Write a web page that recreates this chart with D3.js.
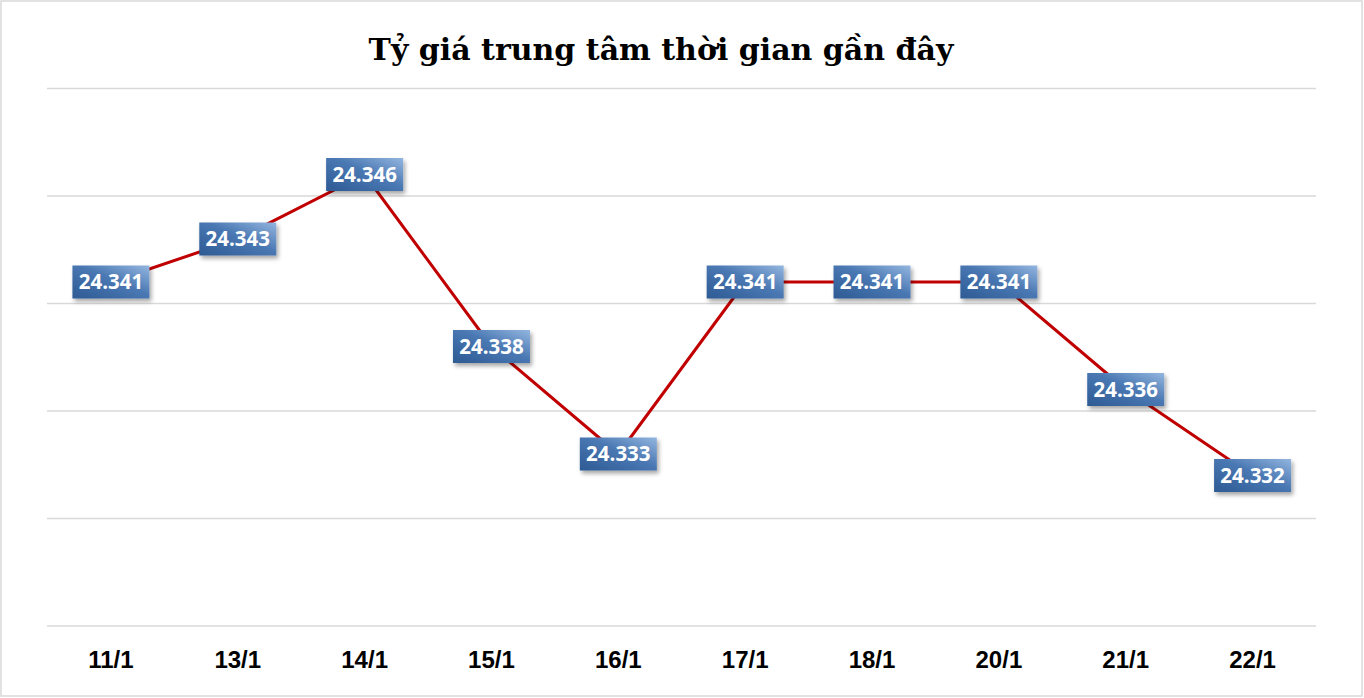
<!DOCTYPE html>
<html><head><meta charset="utf-8">
<script src="https://cdn.jsdelivr.net/npm/d3@7/dist/d3.min.js"></script>
<style>body{margin:0;background:#fff}svg{display:block}</style>
</head><body>
<script>
const categories = ["11/1","13/1","14/1","15/1","16/1","17/1","18/1","20/1","21/1","22/1"];
const values = [24.341,24.343,24.346,24.338,24.333,24.341,24.341,24.341,24.336,24.332];
const yTicks = [24.325,24.330,24.335,24.340,24.345,24.350];
const title = "Tỷ giá trung tâm thời gian gần đây";

const W=1364,H=698;
const svg=d3.select("body").append("svg").attr("width",W).attr("height",H);
const defs=svg.append("defs");
const g=defs.append("linearGradient").attr("id","lg").attr("x1","0").attr("y1","1").attr("x2","1").attr("y2","0");
g.append("stop").attr("offset","0").attr("stop-color","#2d5a93");
g.append("stop").attr("offset","0.55").attr("stop-color","#4a78b3");
g.append("stop").attr("offset","1").attr("stop-color","#93b6df");
const f=defs.append("filter").attr("id","sh").attr("x","-20%").attr("y","-20%").attr("width","150%").attr("height","160%");
f.append("feDropShadow").attr("dx",2).attr("dy",3).attr("stdDeviation",2).attr("flood-color","#000").attr("flood-opacity",0.35);

svg.append("rect").attr("x",1).attr("y",1).attr("width",W-3).attr("height",H-3).attr("fill","#fff").attr("stroke","#d9d9d9").attr("stroke-width",1.5);

const x=d3.scaleBand().domain(categories).range([47.5,1316]);
const y=d3.scaleLinear().domain([24.325,24.350]).range([626,88.5]);

svg.append("g").selectAll("line").data(yTicks).join("line")
 .attr("x1",47).attr("x2",1316).attr("y1",d=>y(d)).attr("y2",d=>y(d))
 .attr("stroke","#d9d9d9").attr("stroke-width",1.3);

svg.append("text").attr("x",661).attr("y",60).attr("text-anchor","middle")
 .attr("font-family","'DejaVu Serif', 'Liberation Serif', serif").attr("font-weight","bold")
 .attr("font-size",30).attr("fill","#000").text(title);

const cx=d=>x(d)+x.bandwidth()/2;
svg.append("path").datum(values.map((v,i)=>[cx(categories[i]),y(v)]))
 .attr("d",d3.line()).attr("fill","none").attr("stroke","#c00000").attr("stroke-width",3).attr("stroke-linejoin","round");

const lab=svg.append("g").selectAll("g").data(values).join("g")
 .attr("transform",(d,i)=>`translate(${cx(categories[i])},${y(d)})`);
lab.append("rect").attr("x",-38.5).attr("y",-16.5).attr("width",77).attr("height",33)
 .attr("fill","url(#lg)").attr("filter","url(#sh)");
lab.append("text").attr("text-anchor","middle").attr("dy","0.36em")
 .attr("font-family","'Open Sans', 'Liberation Sans', sans-serif").attr("font-weight","bold")
 .attr("font-size",20.5).attr("fill","#fff").text(d=>d.toFixed(3));

svg.append("g").selectAll("text").data(categories).join("text")
 .attr("x",d=>cx(d)).attr("y",668).attr("text-anchor","middle")
 .attr("font-family","'Liberation Sans', Arial, sans-serif").attr("font-weight","bold")
 .attr("font-size",24).attr("fill","#000").text(d=>d);
</script>
</body></html>
